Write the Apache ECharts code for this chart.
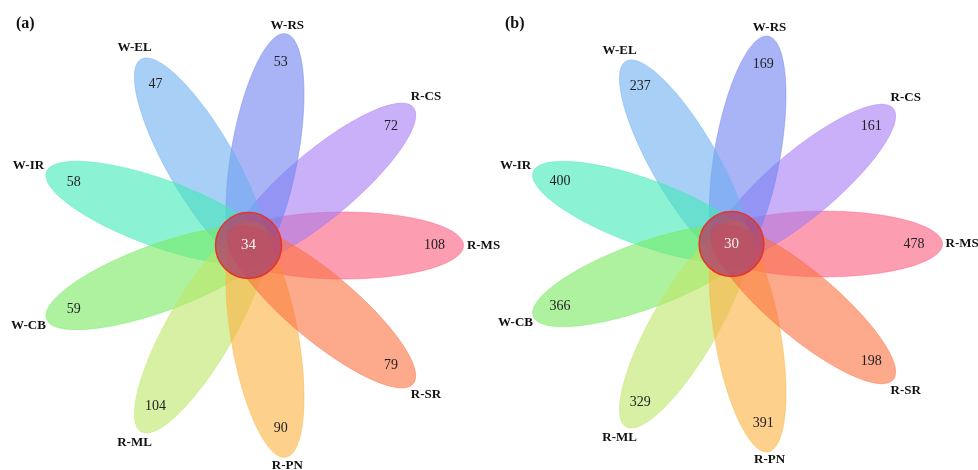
<!DOCTYPE html>
<html><head><meta charset="utf-8">
<script src="https://cdn.jsdelivr.net/npm/echarts@6/dist/echarts.min.js"></script>
<style>html,body{margin:0;padding:0;background:#fff}#c{width:978px;height:470px}</style>
</head><body><div id="c"></div>
<script>
// ---- data ----
const petalNames = ['R-MS','R-CS','W-RS','W-EL','W-IR','W-CB','R-ML','R-PN','R-SR'];
const petalAngles = [0,40,80,120,160,200,240,280,320];
const countsA = [108,72,53,47,58,59,104,90,79];
const countsB = [478,161,169,237,400,366,329,391,198];
const coreA = 34;
const coreB = 30;
const panelTitles = ['(a)','(b)'];

// ---- styles ----
const petalColors = ['#fc5c7f','#a57bf3','#7082f0','#6eaff0','#3fe9b7','#78e961','#bee667','#fcb13f','#fa703f'];
const SERIF = '"Liberation Serif","Times New Roman",serif';
// geometry in data units
const OFFSET = 95, SEMI_MAJ = 120, SEMI_MIN = 33.5, NUM_R = 186, CORE_R = 33;

function rot(u, v, a){ return [u*Math.cos(a) - v*Math.sin(a), u*Math.sin(a) + v*Math.cos(a)]; }

function petalRender(params, api){
  const a = api.value(0) * Math.PI / 180;
  const pts = [];
  for (let k = 0; k < 144; k++){
    const t = k / 144 * 2 * Math.PI;
    pts.push(api.coord(rot(OFFSET + SEMI_MAJ*Math.cos(t), SEMI_MIN*Math.sin(t), a)));
  }
  const col = petalColors[api.value(2)];
  return {type:'polygon', shape:{points:pts},
    style:{fill: echarts.color.modifyAlpha(col, 0.6), stroke: echarts.color.modifyAlpha(col, 0.45), lineWidth: 1}};
}
function textRender(params, api){
  const a = api.value(0) * Math.PI / 180;
  const pn = api.coord(rot(NUM_R, 0, a));
  const lr = 221 + 14 * Math.abs(Math.cos(a));
  const pl = api.coord(rot(lr, 0, a));
  return {type:'group', children:[
    {type:'text', x:pn[0], y:pn[1], style:{text:String(api.value(1)), fill:'#222', font:'14px '+SERIF, align:'center', verticalAlign:'middle'}},
    {type:'text', x:pl[0], y:pl[1], style:{text:petalNames[api.value(2)], fill:'#111', font:'bold 13px '+SERIF, align:'center', verticalAlign:'middle'}}
  ]};
}
function coreRender(params, api){
  const c = api.coord([0,0]);
  const r = api.size([CORE_R, 0])[0];
  return {type:'group', children:[
    {type:'circle', shape:{cx:c[0], cy:c[1], r:r}, style:{fill:'rgba(176,70,108,0.82)', stroke:'#e5352a', lineWidth:1.5}},
    {type:'text', x:c[0], y:c[1], style:{text:String(api.value(2)), fill:'#f2f2f2', font:'15px '+SERIF, align:'center', verticalAlign:'middle'}}
  ]};
}

function petalData(counts){ return petalAngles.map((ang, i) => [ang, counts[i], i]); }

const sB = 211/215;
const option = {
  animation:false,
  backgroundColor:'#fff',
  title: panelTitles.map((t, i) => ({text:t, left: 16 + i*489, top: 16, padding:0,
    textStyle:{fontFamily:SERIF, fontWeight:'bold', fontSize:16, color:'#111'}})),
  grid:[
    {left:0, top:0, width:489, height:470},
    {left:489, top:0, width:489, height:470}
  ],
  xAxis:[
    {gridIndex:0, type:'value', min:-248.5, max:240.5, show:false},
    {gridIndex:1, type:'value', min:-242.5/sB, max:246.5/sB, show:false}
  ],
  yAxis:[
    {gridIndex:0, type:'value', min:-224.5, max:245.5, show:false},
    {gridIndex:1, type:'value', min:-226/sB, max:244/sB, show:false}
  ],
  series:[
    {type:'custom', xAxisIndex:0, yAxisIndex:0, clip:false, renderItem:petalRender, data:petalData(countsA)},
    {type:'custom', xAxisIndex:0, yAxisIndex:0, clip:false, renderItem:coreRender, data:[[0,0,coreA]]},
    {type:'custom', xAxisIndex:0, yAxisIndex:0, clip:false, renderItem:textRender, data:petalData(countsA)},
    {type:'custom', xAxisIndex:1, yAxisIndex:1, clip:false, renderItem:petalRender, data:petalData(countsB)},
    {type:'custom', xAxisIndex:1, yAxisIndex:1, clip:false, renderItem:coreRender, data:[[0,0,coreB]]},
    {type:'custom', xAxisIndex:1, yAxisIndex:1, clip:false, renderItem:textRender, data:petalData(countsB)}
  ]
};
const chart = echarts.init(document.getElementById('c'), null, {renderer:'canvas'});
chart.setOption(option);
</script>
</body></html>
